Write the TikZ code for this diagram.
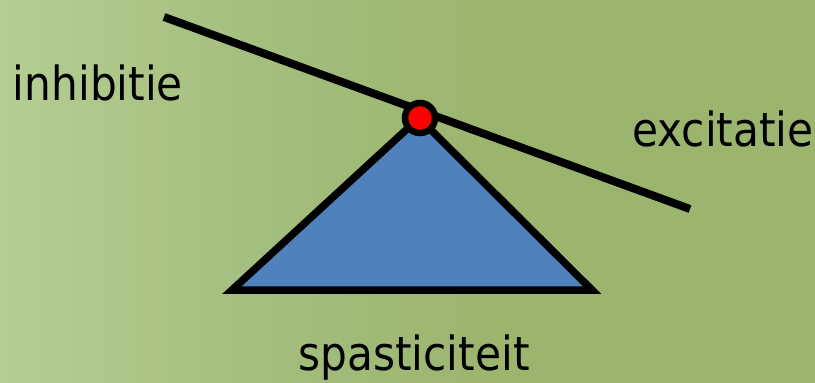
\documentclass[tikz,border=0pt]{standalone}
\usepackage{fontspec}
\setmainfont{DejaVu Sans Condensed}
\definecolor{bgL}{HTML}{B4CD91}
\definecolor{bgM}{HTML}{A2BC7C}
\definecolor{bgR}{HTML}{9BB56E}
\definecolor{triblue}{HTML}{4F81BD}
\begin{document}
\begin{tikzpicture}[x=1pt,y=-1pt,
  lbl/.style={inner sep=0pt,anchor=base,font=\fontsize{47}{50}\selectfont,text=black},
  outline/.style={draw=black,line width=7.5pt,line join=miter}]
\useasboundingbox (0,0) rectangle (815,383);
\fill[bgR] (0,0) rectangle (815,383);
\shade[left color=bgL,right color=bgM] (0,0) rectangle (300,383);
\shade[left color=bgM,right color=bgR] (299.5,0) rectangle (500,383);
\coordinate (l1) at (164,17);
\coordinate (l2) at (690,209);
\draw[line width=8pt] (l1) -- (l2);
\coordinate (tA) at (419,118);
\coordinate (tL) at (232,290);
\coordinate (tR) at (592,290);
\draw[outline,fill=triblue] (tA) -- (tL) -- (tR) -- cycle;
\node[circle,draw=black,line width=6.5pt,fill=red,minimum size=30pt,inner sep=0pt] (piv) at (420,118) {};
\node[lbl] (inh) at (98,100) {inhibitie};
\node[lbl] (exc) at (723,146) {excitatie};
\node[lbl] (spa) at (414,370) {spasticiteit};
\end{tikzpicture}
\end{document}
